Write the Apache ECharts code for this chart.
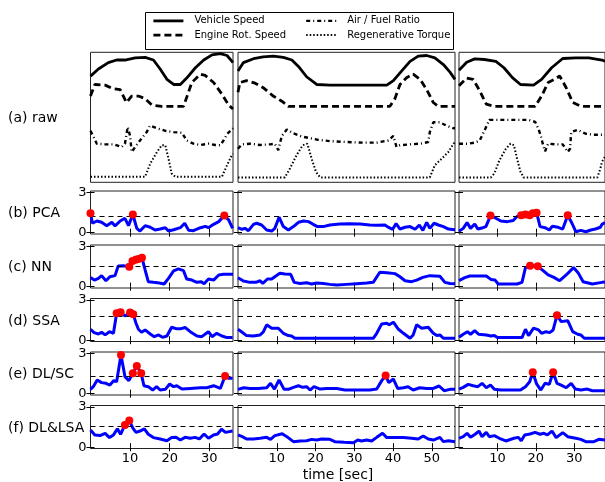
<!DOCTYPE html>
<html>
<head>
<meta charset="utf-8">
<script src="https://cdn.jsdelivr.net/npm/echarts@6/dist/echarts.min.js"></script>
<style>
  html, body { margin: 0; padding: 0; background: #fff; }
  #chart { width: 605px; height: 482px; }
</style>
</head>
<body>
<div id="chart"></div>
<script>
// raw signals (normalised 0..1), one array per column
let speed1 = [[0, 0.825], [2, 0.88], [4.5, 0.93], [6.6, 0.95], [8.7, 0.95], [11.3, 0.967], [13.8, 0.97], [15.9, 0.95], [17.6, 0.88], [19.3, 0.8], [21, 0.76], [22.7, 0.76], [24.3, 0.81], [26.5, 0.89], [28.6, 0.95], [30.7, 0.99], [32.8, 1.0], [34.5, 0.985], [36, 0.93]]
let engine1 = [[0, 0.67], [1.1, 0.76], [3.7, 0.755], [5.4, 0.73], [7.5, 0.72], [9.1, 0.62], [10.4, 0.67], [12.1, 0.67], [13.8, 0.65], [15.5, 0.6], [18, 0.59], [20.5, 0.59], [23.5, 0.59], [24.3, 0.66], [25.6, 0.775], [27.7, 0.84], [29, 0.83], [31.1, 0.775], [33.2, 0.685], [34.9, 0.6], [36, 0.57]]
let afr1 = [[0, 0.4], [1.6, 0.3], [3.7, 0.295], [5.8, 0.295], [7.9, 0.275], [8.7, 0.3], [9.4, 0.43], [10, 0.36], [10.4, 0.236], [11.3, 0.275], [12.5, 0.325], [14.2, 0.39], [15, 0.44], [16.8, 0.42], [18.9, 0.4], [21, 0.39], [23.1, 0.385], [24.3, 0.325], [26, 0.3], [27.7, 0.29], [29.8, 0.3], [31.5, 0.29], [32.8, 0.288], [33.6, 0.325], [34.5, 0.375], [35.7, 0.41], [36, 0.42]]
let regen1 = [[0, 0.043], [13.8, 0.043], [15.1, 0.146], [16.8, 0.236], [18, 0.288], [18.9, 0.288], [19.7, 0.184], [20.5, 0.069], [21.4, 0.043], [33.2, 0.043], [34.5, 0.133], [35.7, 0.21], [36, 0.22]]

let speed2 = [[0, 0.864], [1.4, 0.93], [4, 0.96], [6.5, 0.974], [9.1, 0.98], [11.7, 0.97], [13.9, 0.95], [15.6, 0.9], [17.7, 0.82], [20.3, 0.76], [23.7, 0.755], [28.9, 0.755], [34.1, 0.755], [38.4, 0.755], [40.1, 0.79], [42.2, 0.864], [44.4, 0.94], [46.5, 0.98], [48.7, 0.985], [50.8, 0.967], [53, 0.915], [54.7, 0.856], [56, 0.8]]
let engine2 = [[0, 0.7], [0.5, 0.775], [2.2, 0.79], [4.4, 0.77], [6.5, 0.735], [9.1, 0.67], [11.3, 0.63], [13, 0.59], [19.4, 0.59], [28, 0.59], [39.2, 0.59], [40.5, 0.65], [41.8, 0.76], [43.5, 0.813], [45.2, 0.84], [47, 0.8], [48.7, 0.72], [50.4, 0.62], [51.7, 0.59], [56, 0.59]]
let afr2 = [[0, 0.26], [1, 0.295], [3.1, 0.3], [5.7, 0.29], [8.3, 0.295], [9.5, 0.3], [10.4, 0.25], [11.3, 0.36], [12.6, 0.41], [14.3, 0.38], [16.4, 0.356], [18.6, 0.343], [20.7, 0.33], [23.7, 0.32], [28, 0.313], [32.3, 0.308], [35.8, 0.308], [38.8, 0.325], [40.1, 0.36], [40.9, 0.275], [41.8, 0.288], [44.4, 0.295], [47, 0.3], [49.1, 0.313], [49.5, 0.39], [50.4, 0.466], [52.1, 0.466], [53.8, 0.44], [55.6, 0.42], [56, 0.42]]
let regen2 = [[0, 0.038], [12.1, 0.038], [13.4, 0.107], [15.1, 0.21], [16.7, 0.288], [17.9, 0.3], [19, 0.184], [20.1, 0.082], [21.2, 0.038], [49.5, 0.038], [50.8, 0.133], [52.6, 0.184], [54.3, 0.236], [55.6, 0.3], [56, 0.31]]

let speed3 = [[0, 0.87], [2, 0.933], [4.1, 0.959], [6.6, 0.954], [9.6, 0.94], [11.7, 0.89], [13.9, 0.813], [16, 0.76], [19.4, 0.755], [21.5, 0.8], [24.1, 0.89], [27, 0.962], [30.4, 0.967], [33.8, 0.967], [37.2, 0.95], [38, 0.94]]
let engine3 = [[0, 0.75], [2, 0.81], [3.7, 0.8], [5.4, 0.71], [7.1, 0.607], [9.2, 0.59], [16, 0.59], [19.8, 0.59], [21.5, 0.67], [23.2, 0.775], [24.9, 0.8], [26.2, 0.826], [27.9, 0.735], [29.6, 0.62], [31.7, 0.59], [38, 0.59]]
let afr3 = [[0, 0.3], [2.4, 0.3], [4.1, 0.308], [5.4, 0.325], [6.6, 0.4], [7.9, 0.485], [10.9, 0.485], [14.3, 0.485], [18.1, 0.485], [19.8, 0.47], [20.7, 0.414], [21.3, 0.36], [21.8, 0.3], [22.4, 0.24], [23.2, 0.3], [25.3, 0.295], [27, 0.295], [28.3, 0.236], [28.9, 0.26], [29.2, 0.39], [30.9, 0.407], [33, 0.377], [35.1, 0.37], [38, 0.37]]
let regen3 = [[0, 0.038], [8.3, 0.038], [9.2, 0.069], [10.5, 0.17], [12.2, 0.26], [13.4, 0.3], [14.3, 0.288], [15.1, 0.184], [16, 0.082], [16.8, 0.038], [36, 0.038], [36.8, 0.107], [37.2, 0.158], [38, 0.2]]

// anomaly scores per method and column
let pca1 = [[0, 1.44], [0.5, 0.7], [1.6, 0.87], [2.8, 0.77], [4.1, 0.52], [5.4, 0.77], [6.2, 0.5], [7.5, 0.87], [8.7, 1.07], [9.6, 0.52], [10.7, 1.35], [11.7, 0.32], [12.5, 0.12], [13.8, 0.52], [15.1, 0.4], [16.3, 0.2], [17.6, 0.27], [18.9, 0.37], [19.7, 0.12], [21, 0.22], [22.7, 0.37], [23.8, 0.7], [24.8, 0.17], [26, 0.15], [27.8, 0.37], [29, 0.47], [29.8, 0.37], [31.1, 0.62], [32.4, 0.82], [33.8, 1.27], [34.9, 0.95], [35.9, 0.32]]
let pca2 = [[0, 0.37], [1, 0.25], [1.8, 0.32], [2.7, 0.15], [4, 0.62], [4.8, 0.7], [6.1, 0.57], [7.4, 0.2], [8.7, 0.12], [9.5, 0.32], [10.6, 1.15], [11.7, 0.45], [13, 0.2], [14.3, 0.45], [15.6, 0.77], [16.9, 0.87], [18.2, 0.82], [19.4, 0.62], [20.5, 0.45], [22, 0.45], [23.7, 0.57], [26.3, 0.65], [28.9, 0.67], [31.5, 0.65], [34, 0.57], [35.8, 0.55], [37.9, 0.57], [39, 0.37], [39.9, 0.25], [40.8, 0.67], [41.8, 0.27], [43.1, 0.4], [44.4, 0.45], [45.7, 0.25], [46.8, 0.57], [47.7, 0.17], [48.7, 0.77], [49.5, 0.32], [50.6, 0.7], [51.7, 0.57], [53, 0.45], [54.3, 0.27], [56, 0.22]]
let pca3 = [[0, 0.1], [1.1, 0.32], [2.1, 0.75], [3, 0.32], [4.1, 0.65], [4.9, 0.27], [6.2, 0.37], [7, 0.45], [8.2, 1.27], [9.6, 1.07], [10.9, 0.87], [12.6, 0.82], [14.1, 0.9], [15.1, 1.2], [16.2, 1.3], [17.3, 1.35], [18.4, 1.3], [19.2, 1.44], [20.2, 1.49], [21.1, 0.45], [22.4, 0.37], [23.5, 0.2], [24.3, 0.47], [25.8, 0.4], [27, 0.27], [28.3, 1.3], [29.4, 0.7], [30.4, 0.07], [31.7, 0.17], [33, 0.07], [34.3, 0.2], [35.5, 0.27], [36.8, 0.4], [37.2, 0.62], [38, 0.75]]
let nn1 = [[0, 0.67], [1, 0.49], [2, 0.62], [2.8, 0.82], [3.9, 0.44], [4.9, 0.74], [6.2, 0.82], [7, 1.54], [8.3, 1.56], [9.8, 1.49], [10.6, 1.91], [11.4, 2.0], [12.1, 2.05], [13, 2.15], [13.8, 1.24], [14.6, 0.37], [15.9, 0.32], [17.4, 0.27], [18.6, 0.2], [19.7, 0.62], [21, 1.17], [22.2, 1.32], [23.5, 1.19], [24.3, 0.57], [25.6, 0.49], [26.9, 0.32], [28, 0.37], [28.7, 0.22], [29.8, 0.57], [31.1, 0.49], [32.4, 0.87], [33.6, 0.92], [36, 0.92]]
let nn2 = [[0, 0.67], [1.4, 0.42], [3.1, 0.32], [4.6, 0.32], [5.7, 0.44], [6.4, 0.24], [7.6, 0.57], [8.7, 0.57], [9.5, 0.74], [10.8, 0.99], [12.1, 0.94], [13.6, 0.92], [14.5, 0.32], [16, 0.24], [17.7, 0.29], [19, 0.2], [20.3, 0.27], [22, 0.24], [23.7, 0.17], [25.5, 0.12], [28, 0.17], [30.6, 0.22], [33.2, 0.27], [34.9, 0.32], [36.6, 1.07], [38.4, 1.04], [40.5, 0.97], [41.8, 0.74], [43.1, 0.44], [44.8, 0.37], [46.1, 0.49], [47.7, 0.69], [49.5, 0.82], [52.1, 0.77], [53.4, 0.32], [54.7, 0.24], [56, 0.22]]
let nn3 = [[0, 0.45], [1.5, 0.67], [2.8, 0.79], [4.9, 0.79], [7.1, 0.79], [8.3, 0.54], [9.4, 0.49], [10.2, 0.2], [12.6, 0.2], [15.1, 0.2], [16.4, 0.32], [17.3, 1.42], [18.5, 1.56], [20.5, 1.51], [21.9, 1.19], [23.2, 0.87], [24.7, 0.69], [26.2, 0.44], [27.9, 0.87], [29.8, 1.42], [31.1, 0.99], [32.3, 0.37], [34.7, 0.2], [37.2, 0.32], [38, 0.35]]
let ssa1 = [[0, 0.81], [0.9, 0.56], [2, 0.46], [2.8, 0.59], [3.7, 0.39], [4.8, 0.63], [5.8, 0.51], [6.6, 2.0], [7.6, 2.07], [8.7, 1.8], [10, 2.05], [10.8, 1.92], [11.5, 1.26], [12.1, 0.81], [12.9, 0.59], [13.8, 0.76], [15.1, 0.46], [16.1, 0.26], [17.2, 0.39], [18.2, 0.21], [19.3, 0.31], [20.5, 0.96], [21.8, 0.84], [22.7, 0.84], [23.9, 0.94], [25.2, 0.63], [26.9, 0.31], [28.1, 0.26], [29.8, 0.63], [30.7, 0.26], [31.9, 0.51], [33.2, 0.31], [34.5, 0.19], [35.9, 0.19]]
let ssa2 = [[0, 0.81], [0.9, 0.63], [2.2, 0.34], [3.9, 0.31], [5.7, 0.39], [6.5, 0.59], [7.4, 1.14], [8.7, 0.89], [10.4, 0.89], [11.7, 0.51], [13, 0.34], [13.8, 0.31], [14.7, 0.14], [19.4, 0.14], [25.5, 0.14], [30.6, 0.14], [34.9, 0.14], [35.8, 0.51], [37.1, 1.21], [38.4, 1.26], [39, 1.14], [40.1, 1.34], [41.4, 0.81], [42.7, 0.51], [44.4, 0.14], [45.2, 0.39], [46.1, 1.14], [47.4, 0.89], [49.1, 0.96], [50.4, 0.51], [51.3, 0.34], [52.1, 0.39], [53, 0.14], [56, 0.14]]
let ssa3 = [[0, 0.21], [1.1, 0.44], [2.2, 0.63], [3, 0.44], [4.1, 0.71], [5.1, 0.44], [7.1, 0.39], [8.3, 0.31], [9.2, 0.34], [10, 0.19], [12.6, 0.19], [16.4, 0.19], [17.3, 0.81], [18.1, 0.34], [19.4, 0.89], [20.7, 0.76], [21.5, 0.51], [22.6, 0.63], [23.6, 0.56], [24.5, 0.76], [25.5, 1.85], [26.6, 1.38], [28.3, 1.45], [29.6, 0.63], [30.9, 0.44], [31.7, 0.39], [32.6, 0.14], [38, 0.14]]
let dlsc1 = [[0, 0.32], [0.7, 0.52], [1.7, 1.02], [2.8, 0.82], [3.9, 0.77], [4.9, 0.64], [5.9, 0.97], [6.6, 0.89], [7.7, 2.88], [8.7, 1.27], [9.7, 0.97], [10.7, 1.51], [11.7, 2.06], [12.8, 1.51], [13.5, 0.59], [14.6, 0.52], [15.7, 0.27], [16.7, 0.52], [17.6, 0.27], [18.9, 0.32], [20, 0.72], [21, 0.52], [21.8, 0.59], [23.1, 0.34], [25.2, 0.39], [27.7, 0.44], [29.4, 0.44], [31.1, 0.59], [32.8, 0.39], [34, 1.32], [34.9, 1.14], [35.9, 1.14]]
let dlsc2 = [[0, 0.32], [1.5, 0.44], [3.1, 0.39], [5.2, 0.39], [7.4, 0.44], [8.4, 0.77], [9.4, 0.34], [10.6, 1.02], [11.9, 0.32], [13, 0.32], [14.3, 0.47], [15.6, 0.59], [16.7, 0.47], [17.7, 0.52], [18.6, 0.27], [19.6, 0.52], [21.2, 0.34], [22.9, 0.39], [25.5, 0.39], [27.6, 0.27], [30.6, 0.27], [34, 0.27], [35.8, 0.34], [37.1, 0.97], [38.1, 1.35], [38.9, 0.82], [40.1, 1.09], [41.2, 0.39], [42.7, 0.44], [43.9, 0.52], [45.2, 0.27], [46.9, 0.44], [48.7, 0.39], [50.4, 0.39], [51.9, 0.57], [53.2, 0.22], [54.7, 0.32], [56, 0.32]]
let dlsc3 = [[0, 0.34], [1.1, 0.47], [2.4, 0.69], [3.7, 0.59], [4.9, 0.52], [6, 0.77], [7.1, 0.44], [8.2, 0.64], [9.2, 0.32], [10.9, 0.27], [13.4, 0.27], [16, 0.27], [17.3, 0.52], [18.4, 0.89], [19.2, 1.59], [20.2, 0.72], [21.3, 0.27], [22.4, 0.77], [23.5, 0.69], [24.5, 1.59], [25.5, 0.77], [26.6, 0.64], [27.9, 0.44], [29.2, 0.77], [30.3, 0.34], [31.7, 0.27], [33.4, 0.34], [34.7, 0.22], [38, 0.22]]
let dllsa1 = [[0, 1.28], [1.1, 0.91], [2.4, 0.86], [3.7, 1.03], [4.8, 0.71], [5.8, 0.91], [6.8, 1.36], [7.6, 0.96], [8.7, 1.65], [9.8, 1.98], [10.7, 1.41], [11.5, 1.1], [12.5, 1.2], [13.6, 1.36], [14.6, 0.96], [15.9, 0.71], [17.6, 0.61], [19.3, 0.48], [20.5, 0.71], [21.6, 0.73], [22.7, 0.53], [23.9, 0.73], [25.2, 0.66], [26.4, 0.73], [27.5, 0.61], [28.7, 0.98], [29.8, 0.66], [31.1, 0.91], [32.1, 0.98], [33.1, 1.33], [34.1, 1.1], [35.9, 1.2]]
let dllsa2 = [[0, 0.91], [1.1, 0.78], [2.2, 0.61], [4, 0.61], [5.7, 0.66], [7.4, 0.73], [8.4, 0.58], [9.5, 0.86], [11.4, 1.0], [12.6, 0.78], [14.3, 0.41], [16, 0.46], [17.7, 0.48], [19, 0.58], [20.3, 0.53], [21.6, 0.61], [23.7, 0.58], [25, 0.41], [27.4, 0.36], [29.8, 0.33], [30.9, 0.53], [31.9, 0.46], [33.2, 0.53], [34.5, 0.46], [35.8, 0.73], [37.3, 1.03], [38.4, 0.71], [40.1, 0.71], [42.7, 0.71], [44.8, 0.66], [46.5, 0.61], [47.8, 0.83], [49.1, 0.61], [50.4, 0.53], [52.1, 0.73], [53, 0.41], [54.3, 0.48], [56, 0.41]]
let dllsa3 = [[0, 0.66], [1.1, 0.78], [2.1, 1.03], [3, 0.73], [4.2, 0.96], [5.2, 1.2], [6, 0.78], [7.1, 1.1], [7.9, 0.78], [9.2, 0.86], [10.5, 0.66], [12.2, 0.46], [14.3, 0.66], [15.4, 0.73], [16.2, 0.48], [17.1, 0.91], [18.5, 0.98], [19.8, 1.1], [21.1, 0.96], [22.1, 1.03], [23, 0.91], [24.2, 1.2], [25.3, 0.71], [27, 1.08], [28.3, 0.78], [30.4, 0.66], [31.7, 0.58], [33, 0.41], [35.1, 0.41], [36.4, 0.58], [38, 0.53]]

// detected anomalies (red dots)
let pcaHit1 = [[0, 1.44], [10.7, 1.35], [33.8, 1.27]]
let pcaHit2 = []
let pcaHit3 = [[8.2, 1.27], [16.2, 1.3], [17.3, 1.35], [18.4, 1.3], [19.2, 1.44], [20.2, 1.49], [28.3, 1.3]]
let nnHit1 = [[9.8, 1.49], [10.6, 1.91], [11.4, 2.0], [12.1, 2.05], [13, 2.15]]
let nnHit2 = []
let nnHit3 = [[18.5, 1.56], [20.5, 1.51]]
let ssaHit1 = [[6.6, 2.0], [7.6, 2.07], [10, 2.05], [10.8, 1.92]]
let ssaHit2 = []
let ssaHit3 = [[25.5, 1.85]]
let dlscHit1 = [[7.7, 2.88], [10.7, 1.51], [11.7, 2.06], [12.8, 1.51], [34, 1.32]]
let dlscHit2 = [[38.1, 1.35]]
let dlscHit3 = [[19.2, 1.59], [24.5, 1.59]]
let dllsaHit1 = [[8.7, 1.65], [9.8, 1.98]]
let dllsaHit2 = []
let dllsaHit3 = []

let thresholds = [1.25, 1.54, 1.8, 1.32, 1.58]
let rowLabels = ['(a) raw', '(b) PCA', '(c) NN', '(d) SSA', '(e) DL/SC', '(f) DL&LSA']
let rawNames = ['Vehicle Speed', 'Engine Rot. Speed', 'Air / Fuel Ratio', 'Regenerative Torque']
let xTicks = [[10, 20, 30], [10, 20, 30, 40, 50], [10, 20, 30]]
let yTicks = [0, 3]
let colMax = [36, 56, 38]

let rawCols = [[speed1, engine1, afr1, regen1], [speed2, engine2, afr2, regen2], [speed3, engine3, afr3, regen3]]
let scoreRows = [[pca1, pca2, pca3], [nn1, nn2, nn3], [ssa1, ssa2, ssa3], [dlsc1, dlsc2, dlsc3], [dllsa1, dllsa2, dllsa3]]
let hitRows = [[pcaHit1, pcaHit2, pcaHit3], [nnHit1, nnHit2, nnHit3], [ssaHit1, ssaHit2, ssaHit3], [dlscHit1, dlscHit2, dlscHit3], [dllsaHit1, dllsaHit2, dllsaHit3]]

// layout
let colLeft = [90.5, 238, 459]
let colWidth = [142.5, 217, 149]
let rowTop = [52.3, 191, 245, 298.5, 352, 405.5]
let rowHeight = [130, 43, 43, 43, 43, 43]
let font = 'DejaVu Sans'
let rawStyles = [
  { width: 2.8, type: 'solid' },
  { width: 2.8, type: [7, 4] },
  { width: 2.4, type: [4, 3, 1, 3] },
  { width: 2, type: [1.5, 2] }
]

let grid = []
let xAxis = []
let yAxis = []
let series = []

for (let r = 0; r < 6; r++) {
  for (let c = 0; c < 3; c++) {
    let g = grid.length
    grid.push({
      left: colLeft[c],
      top: rowTop[r],
      width: colWidth[c],
      height: rowHeight[r],
      show: true,
      borderColor: '#222',
      borderWidth: 1,
      backgroundColor: '#fff'
    })
    let tickShow = r > 0
    let xBase = {
      type: 'value',
      gridIndex: g,
      min: 0,
      max: colMax[c],
      splitLine: { show: false },
      axisLine: { show: false }
    }
    xAxis.push(Object.assign({}, xBase, {
      position: 'bottom',
      axisTick: { show: tickShow, inside: true, length: 4, customValues: xTicks[c], lineStyle: { color: '#000' } },
      axisLabel: { show: r === 5, customValues: xTicks[c], margin: 4, fontSize: 13, fontFamily: font, color: '#000' }
    }))
    xAxis.push(Object.assign({}, xBase, {
      position: 'top',
      axisTick: { show: tickShow, inside: true, length: 4, customValues: xTicks[c], lineStyle: { color: '#000' } },
      axisLabel: { show: false }
    }))
    let yBase = {
      type: 'value',
      gridIndex: g,
      min: r === 0 ? 0 : -0.1,
      max: r === 0 ? 1.01 : 3.1,
      splitLine: { show: false },
      axisLine: { show: false }
    }
    yAxis.push(Object.assign({}, yBase, {
      position: 'left',
      axisTick: { show: tickShow, inside: true, length: 4, customValues: yTicks, lineStyle: { color: '#000' } },
      axisLabel: { show: r > 0 && c === 0, customValues: yTicks, margin: 4, fontSize: 13, fontFamily: font, color: '#000' }
    }))
    yAxis.push(Object.assign({}, yBase, {
      position: 'right',
      axisTick: { show: tickShow, inside: true, length: 4, customValues: yTicks, lineStyle: { color: '#000' } },
      axisLabel: { show: false }
    }))

    if (r === 0) {
      rawCols[c].forEach((d, k) => {
        series.push({
          name: rawNames[k],
          type: 'line',
          xAxisIndex: 2 * g,
          yAxisIndex: 2 * g,
          data: d,
          symbol: 'none',
          lineStyle: { color: '#000', width: rawStyles[k].width, type: rawStyles[k].type, cap: 'butt' },
          itemStyle: { color: '#000' }
        })
      })
    } else {
      series.push({
        type: 'line',
        xAxisIndex: 2 * g,
        yAxisIndex: 2 * g,
        data: scoreRows[r - 1][c],
        symbol: 'none',
        lineStyle: { color: '#0000ff', width: 3 },
        markLine: {
          silent: true,
          symbol: ['none', 'none'],
          label: { show: false },
          lineStyle: { color: '#000', type: [5, 4], width: 1 },
          data: [{ yAxis: thresholds[r - 1] }]
        }
      })
      series.push({
        type: 'scatter',
        xAxisIndex: 2 * g,
        yAxisIndex: 2 * g,
        data: hitRows[r - 1][c],
        symbolSize: 8,
        itemStyle: { color: '#ff0000', opacity: 1 },
        z: 5
      })
    }
  }
}

let graphic = [{
  type: 'rect',
  shape: { x: 145.5, y: 12.5, width: 308, height: 37 },
  style: { fill: '#fff', stroke: '#000', lineWidth: 1 }
}, {
  type: 'text',
  style: { x: 338, y: 475, text: 'time [sec]', fontSize: 14, fontFamily: font, fill: '#000', align: 'center', verticalAlign: 'middle' }
}]
rowLabels.forEach((t, r) => {
  graphic.push({
    type: 'text',
    style: { x: 8, y: rowTop[r] + rowHeight[r] / 2 + 1, text: t, fontSize: 14, fontFamily: font, fill: '#000', align: 'left', verticalAlign: 'middle' }
  })
})

let legendBase = {
  orient: 'vertical',
  top: 15.3,
  itemWidth: 30,
  itemHeight: 14,
  itemGap: 3,
  padding: 0,
  selectedMode: false,
  // hide the symbol in the middle of the legend line
  itemStyle: { opacity: 0 },
  lineStyle: { width: 'inherit' },
  textStyle: { fontSize: 10, fontFamily: font, color: '#000', padding: [0, 0, 0, 6] }
}

let myChart = echarts.init(document.getElementById('chart'))
let option = {
  animation: false,
  backgroundColor: '#fff',
  legend: [
    Object.assign({}, legendBase, { left: 152, data: rawNames.slice(0, 2) }),
    Object.assign({}, legendBase, { left: 305, data: rawNames.slice(2) })
  ],
  graphic: graphic,
  grid: grid,
  xAxis: xAxis,
  yAxis: yAxis,
  series: series
}
myChart.setOption(option)
</script>
</body>
</html>
